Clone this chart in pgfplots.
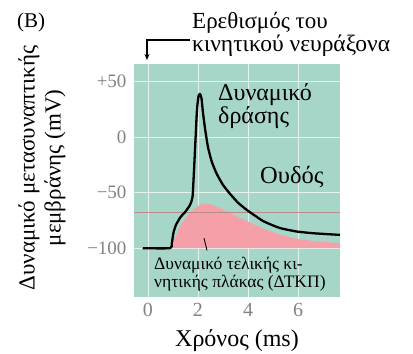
\documentclass[border=0pt]{standalone}
\usepackage{fontspec}
\setmainfont{Liberation Serif}
\usepackage{pgfplots}
\pgfplotsset{compat=1.18}
\usetikzlibrary{arrows.meta}
\definecolor{bgteal}{HTML}{A6D6C8}
\definecolor{epppink}{HTML}{F5A0A8}
\definecolor{thresh}{HTML}{B88C88}
\definecolor{ticklab}{HTML}{828282}
\begin{document}
\begin{tikzpicture}[x=1pt,y=1pt]
\useasboundingbox (0,0) rectangle (413,354);
\begin{axis}[
  at={(134pt,57pt)}, anchor=south west,
  scale only axis, width=206pt, height=233pt,
  xmin=-0.56, xmax=7.68, ymin=-144, ymax=66,
  axis background/.style={fill=bgteal},
  axis line style={draw=none},
  major tick length=0pt,
  xtick={0,2,4,6}, xticklabels={0,2,4,6},
  ytick={-100,-50,0,50}, yticklabels={−100,−50,0,+50},
  yticklabel style={font=\fontsize{19}{20}\selectfont, text=ticklab, xshift=-4pt},
  xticklabel style={font=\fontsize{20}{20}\selectfont, text=ticklab, yshift=-3pt},
  grid=major,
  major grid style={white, opacity=0.7, line width=0.8pt},
  clip=true,
]
% EPP pink area
\addplot[draw=none, fill=epppink] coordinates {
(0.95,-100) (1.0,-97) (1.05,-93) (1.2,-84) (1.4,-76) (1.6,-70) (1.8,-65.5) (2.0,-62) (2.2,-60) (2.5,-60.5) (2.8,-63) (3.3,-68.5) (4.0,-76) (4.6,-82.5) (5.3,-88) (5.95,-91.5) (6.6,-93.5) (7.68,-95.5) (7.68,-100)
} -- cycle;
% threshold
\addplot[thresh, line width=0.9pt] coordinates {(-0.56,-67.6) (7.68,-67.6)};
% action potential
\addplot[black, line width=2.3pt, line join=round, smooth, tension=0.35] coordinates {
(-0.21,-100) (0.88,-100) (0.95,-96) (1.02,-86) (1.12,-79) (1.3,-72) (1.5,-67) (1.68,-61) (1.78,-54) (1.84,-30) (1.9,-2) (1.96,25) (2.02,37) (2.08,39) (2.14,35) (2.2,22) (2.28,8) (2.4,-9) (2.55,-22) (2.75,-33) (3.0,-43) (3.28,-51) (3.6,-59) (3.95,-65.5) (4.3,-71) (4.6,-75.5) (5.0,-79.5) (5.3,-82) (5.95,-85) (6.6,-86.5) (7.28,-87.5) (7.68,-88)
};
\draw[black, line width=0.9pt] (axis cs:2.24,-91) -- (axis cs:2.36,-102);
\node[anchor=base west, align=left, inner sep=0pt, font=\fontsize{24}{23}\selectfont] at (axis cs:2.8,12.6) {Δυναμικό\\δράσης};
\node[anchor=base west, inner sep=0pt, font=\fontsize{24.5}{23}\selectfont] at (axis cs:4.48,-41.4) {Ουδός};
\node[anchor=base west, align=left, inner sep=0pt, font=\fontsize{17.5}{17.5}\selectfont] at (axis cs:0.24,-135.3) {Δυναμικό τελικής κι-\\νητικής πλάκας (ΔΤΚΠ)};
\end{axis}
% outside texts
\node[anchor=base west, inner sep=0pt, font=\fontsize{21}{22}\selectfont] at (17,326) {(B)};
\node[anchor=base west, inner sep=0pt, font=\fontsize{23}{23}\selectfont] at (192,325) {Ερεθισμός του};
\node[anchor=base west, inner sep=0pt, font=\fontsize{23.5}{23}\selectfont] at (192,302) {κινητικού νευράξονα};
\draw[line width=1.1pt, -{Stealth[length=6pt,width=5pt]}] (190,314) -- (147,314) -- (147,294);
\node[anchor=base, inner sep=0pt, font=\fontsize{24}{23}\selectfont] at (237,7.3) {Χρόνος (ms)};
\node[rotate=90, align=center, inner sep=0pt, font=\fontsize{23}{26}\selectfont] at (42,186) {Δυναμικό μετασυναπτικής\\μεμβράνης (mV)};
\end{tikzpicture}
\end{document}
